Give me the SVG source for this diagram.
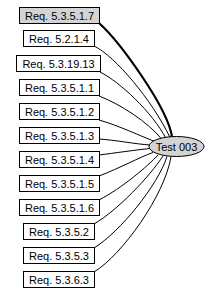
<svg xmlns="http://www.w3.org/2000/svg" width="220" height="295" viewBox="0 0 220 295">
<style>
.box{fill:#ffffff;stroke:#000000;stroke-width:1}
.sel{fill:#d3d3d3}
.lbl{font-family:"Liberation Sans",Arial,sans-serif;font-size:11px;fill:#000000;text-anchor:middle}
.edge{fill:none;stroke:#000000;stroke-width:1}
.bold{stroke-width:2.2}
</style>
<rect width="220" height="295" fill="#ffffff"/>
<g id="edges">
<path class="edge bold" d="M99,23 C120,42 168,108 172,137"/>
<path class="edge" d="M94,46 C115,56 152,100 170,137.5"/>
<path class="edge" d="M100,72 C120,82 152,112 166,138.5"/>
<path class="edge" d="M99,96 C120,104 148,122 162,139.5"/>
<path class="edge" d="M99,120 C120,126 140,136 155,141.5"/>
<path class="edge" d="M99,139 C115,140 135,144 150,145"/>
<path class="edge" d="M99,155 C115,153 135,150 150,148.5"/>
<path class="edge" d="M99,176 C120,168 140,157 153,152.5"/>
<path class="edge" d="M99,200 C122,188 148,166 158,155"/>
<path class="edge" d="M94,224 C118,210 150,176 163,156"/>
<path class="edge" d="M94,248 C120,232 158,185 167,156.5"/>
<path class="edge" d="M94,272 C122,255 165,195 171,156.5"/>
</g>
<g id="req_5_3_5_1_7"><rect class="box sel" x="19.5" y="7.5" width="80" height="16"/><text class="lbl" x="59.5" y="19.5">Req. 5.3.5.1.7</text></g>
<g id="req_5_2_1_4"><rect class="box" x="23.5" y="30.5" width="71" height="16"/><text class="lbl" x="59" y="42.5">Req. 5.2.1.4</text></g>
<g id="req_5_3_19_13"><rect class="box" x="16.5" y="55.5" width="84" height="16"/><text class="lbl" x="58.5" y="67.5">Req. 5.3.19.13</text></g>
<g id="req_5_3_5_1_1"><rect class="box" x="19.5" y="79.5" width="80" height="16"/><text class="lbl" x="59.5" y="91.5">Req. 5.3.5.1.1</text></g>
<g id="req_5_3_5_1_2"><rect class="box" x="19.5" y="103.5" width="80" height="16"/><text class="lbl" x="59.5" y="115.5">Req. 5.3.5.1.2</text></g>
<g id="req_5_3_5_1_3"><rect class="box" x="19.5" y="127.5" width="80" height="16"/><text class="lbl" x="59.5" y="139.5">Req. 5.3.5.1.3</text></g>
<g id="req_5_3_5_1_4"><rect class="box" x="19.5" y="151.5" width="80" height="16"/><text class="lbl" x="59.5" y="163.5">Req. 5.3.5.1.4</text></g>
<g id="req_5_3_5_1_5"><rect class="box" x="19.5" y="175.5" width="80" height="16"/><text class="lbl" x="59.5" y="187.5">Req. 5.3.5.1.5</text></g>
<g id="req_5_3_5_1_6"><rect class="box" x="19.5" y="199.5" width="80" height="16"/><text class="lbl" x="59.5" y="211.5">Req. 5.3.5.1.6</text></g>
<g id="req_5_3_5_2"><rect class="box" x="23.5" y="223.5" width="71" height="16"/><text class="lbl" x="59" y="235.5">Req. 5.3.5.2</text></g>
<g id="req_5_3_5_3"><rect class="box" x="23.5" y="247.5" width="71" height="16"/><text class="lbl" x="59" y="259.5">Req. 5.3.5.3</text></g>
<g id="req_5_3_6_3"><rect class="box" x="23.5" y="271.5" width="71" height="16"/><text class="lbl" x="59" y="283.5">Req. 5.3.6.3</text></g>
<g id="test_003"><ellipse class="box sel" cx="176.5" cy="146.5" rx="27.5" ry="10"/><text class="lbl" x="176.5" y="150.5">Test 003</text></g>
</svg>
